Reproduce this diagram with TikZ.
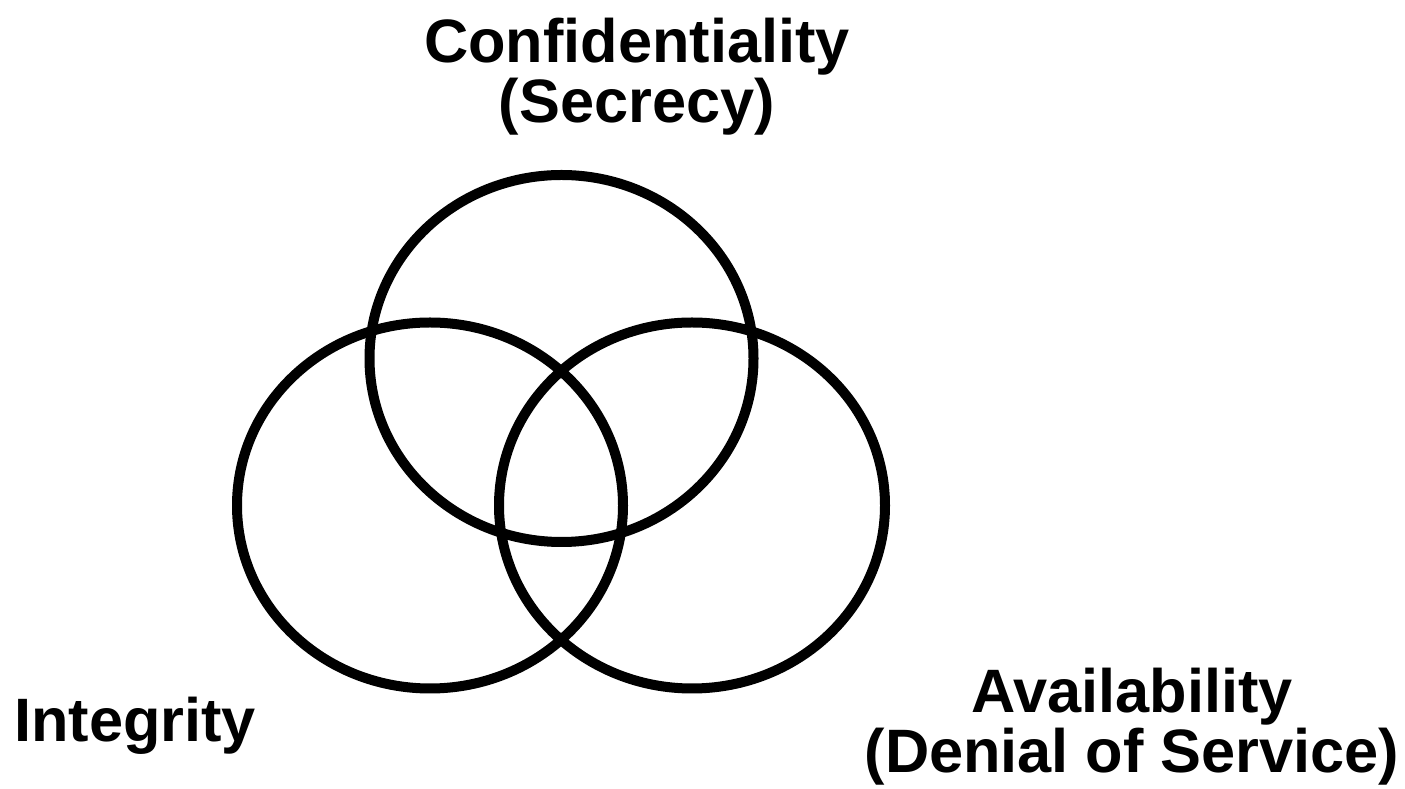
\documentclass[tikz,border=0pt]{standalone}
\usepackage{fontspec}
\setmainfont{Liberation Sans}
\begin{document}
\begin{tikzpicture}[x=1pt,y=1pt,
  ring/.style={draw=black,line width=10pt},
  lbl/.style={anchor=base,inner sep=0pt,font=\bfseries\fontsize{61.3}{60}\selectfont}]
\useasboundingbox (0,0) rectangle (1405,789);
% ellipses (y measured from top: y_tikz = 789 - y)
\draw[ring] (561.5,430.5) ellipse [x radius=192, y radius=183.5];
\draw[ring] (430,283.5) ellipse [x radius=193, y radius=183];
\draw[ring] (692,283.5) ellipse [x radius=193, y radius=183];
% labels
\node[lbl] (conf) at (637,726) {Confidentiality};
\node[lbl] (confsub) at (637,666) {(Secrecy)};
\node[lbl] (integ) at (135,47) {Integrity};
\node[lbl] (avail) at (1132,76) {Availability};
\node[lbl] (availsub) at (1132,16) {(Denial of Service)};
\end{tikzpicture}
\end{document}
